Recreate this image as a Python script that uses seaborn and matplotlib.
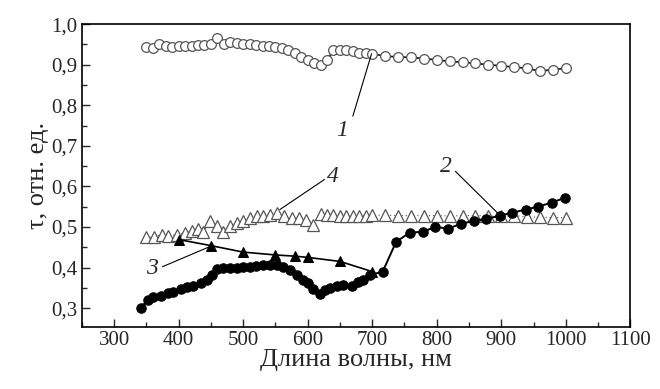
import pandas as pd
import matplotlib
matplotlib.use("Agg")
import matplotlib.pyplot as plt
import seaborn as sns
from matplotlib.ticker import MultipleLocator, FuncFormatter

# curve 1 (open circles)
wl1 = [350, 360, 370, 380, 390, 400, 410, 420, 430, 440, 450, 460, 470, 480, 490,
       500, 510, 520, 530, 540, 550, 560, 570, 580, 590, 600, 610, 620, 630, 640,
       650, 660, 670, 680, 690, 700, 720, 740, 760, 780, 800, 820, 840, 860, 880,
       900, 920, 940, 960, 980, 1000]
tau1 = [0.943, 0.942, 0.952, 0.945, 0.944, 0.946, 0.946, 0.947, 0.948, 0.948, 0.950,
        0.967, 0.950, 0.955, 0.953, 0.952, 0.951, 0.949, 0.947, 0.945, 0.943, 0.940,
        0.935, 0.928, 0.920, 0.912, 0.903, 0.900, 0.912, 0.935, 0.937, 0.935, 0.933,
        0.930, 0.928, 0.927, 0.921, 0.919, 0.918, 0.915, 0.912, 0.908, 0.906, 0.903,
        0.900, 0.897, 0.894, 0.891, 0.884, 0.888, 0.891]

# curve 2 (filled circles)
wl2 = [341, 352, 361, 372, 383, 392, 403, 413, 423, 434, 444, 452, 460, 469, 480,
       490, 500, 510, 520, 531, 541, 552, 562, 572, 583, 593, 601, 608, 619, 627,
       634, 645, 655, 668, 678, 686, 696, 716, 737, 758, 778, 798, 818, 838, 858,
       877, 898, 917, 938, 957, 978, 999]
tau2 = [0.300, 0.320, 0.327, 0.330, 0.337, 0.340, 0.347, 0.352, 0.354, 0.362, 0.369,
        0.382, 0.396, 0.399, 0.399, 0.400, 0.401, 0.402, 0.404, 0.406, 0.406, 0.405,
        0.402, 0.394, 0.382, 0.369, 0.362, 0.347, 0.335, 0.345, 0.350, 0.355, 0.357,
        0.354, 0.364, 0.369, 0.382, 0.389, 0.463, 0.486, 0.488, 0.500, 0.496, 0.508,
        0.515, 0.520, 0.528, 0.535, 0.543, 0.550, 0.560, 0.572]

# curve 3 (filled triangles)
wl3 = [400, 450, 500, 550, 580, 600, 650, 700]
tau3 = [0.469, 0.454, 0.438, 0.431, 0.428, 0.425, 0.415, 0.390]

# curve 4 (open triangles)
wl4 = [350, 362, 374, 384, 397, 410, 420, 430, 438, 449, 459, 468, 480, 490, 500,
       511, 521, 531, 541, 552, 563, 575, 587, 598, 608, 620, 630, 640, 650, 660,
       670, 680, 690, 700, 720, 740, 760, 780, 800, 820, 840, 860, 880, 900, 920,
       940, 960, 980, 1000]
tau4 = [0.474, 0.476, 0.481, 0.478, 0.481, 0.485, 0.490, 0.495, 0.488, 0.514, 0.502,
        0.488, 0.502, 0.509, 0.514, 0.522, 0.526, 0.526, 0.530, 0.534, 0.526, 0.522,
        0.522, 0.518, 0.504, 0.531, 0.530, 0.529, 0.528, 0.528, 0.528, 0.528, 0.528,
        0.529, 0.529, 0.528, 0.528, 0.528, 0.528, 0.527, 0.528, 0.528, 0.528, 0.526,
        0.528, 0.525, 0.524, 0.523, 0.523]

sns.set_style("ticks")
plt.rcParams['font.family'] = ['Liberation Serif', 'DejaVu Serif']

fig = plt.figure(figsize=(6.6, 3.89), dpi=100)
ax = fig.add_axes([0.124, 0.159, 0.831, 0.779])

d1 = pd.DataFrame({'wl': wl1, 'tau': tau1})
d2 = pd.DataFrame({'wl': wl2, 'tau': tau2})
d3 = pd.DataFrame({'wl': wl3, 'tau': tau3})
d4 = pd.DataFrame({'wl': wl4, 'tau': tau4})

sns.lineplot(data=d4, x='wl', y='tau', ax=ax, sort=False, color='#555555', lw=0.8,
             linestyle=(0, (1, 2.5)), marker='^', markersize=8.5, markerfacecolor='white',
             markeredgecolor='#555555', markeredgewidth=0.9)
sns.lineplot(data=d1, x='wl', y='tau', ax=ax, sort=False, color='#222222', lw=1.3,
             marker='o', markersize=7, markerfacecolor='white',
             markeredgecolor='#555555', markeredgewidth=0.9)
sns.lineplot(data=d3, x='wl', y='tau', ax=ax, sort=False, color='black', lw=1.2,
             marker='^', markersize=7, markerfacecolor='black', markeredgecolor='black')
sns.lineplot(data=d2, x='wl', y='tau', ax=ax, sort=False, color='black', lw=1.4,
             marker='o', markersize=6.8, markerfacecolor='black', markeredgecolor='black')

# curve labels with leader lines
labels = [('1', (653, 0.737), (670, 0.773), (699, 0.927)),
          ('2', (814, 0.650), (829, 0.637), (894, 0.535)),
          ('3', (359, 0.398), (375, 0.402), (449, 0.452)),
          ('4', (639, 0.625), (626, 0.617), (557, 0.543))]
for txt, tpos, p0, p1 in labels:
    ax.plot([p0[0], p1[0]], [p0[1], p1[1]], color='black', lw=0.8)
    ax.text(tpos[0], tpos[1], txt, fontsize=17, style='italic', ha='center', va='center')

ax.set_xlim(250, 1100)
ax.set_ylim(0.253, 1.0)
ax.xaxis.set_major_locator(MultipleLocator(100))
ax.xaxis.set_minor_locator(MultipleLocator(50))
ax.yaxis.set_major_locator(MultipleLocator(0.1))
ax.yaxis.set_minor_locator(MultipleLocator(0.05))
ax.yaxis.set_major_formatter(FuncFormatter(lambda v, p: f"{v:.1f}".replace('.', ',')))
ax.set_xticks([300, 400, 500, 600, 700, 800, 900, 1000, 1100])
ax.tick_params(which='major', direction='in', length=6, width=1, labelsize=15, pad=3)
ax.tick_params(which='minor', direction='in', length=3.5, width=1)
for s in ax.spines.values():
    s.set_linewidth(1.2)
    s.set_color('black')

ax.set_xlabel('Длина волны, нм', fontsize=19, labelpad=-1)
ax.set_ylabel('τ, отн. ед.', fontsize=19, labelpad=2)

fig.savefig('out.png', dpi=100)
